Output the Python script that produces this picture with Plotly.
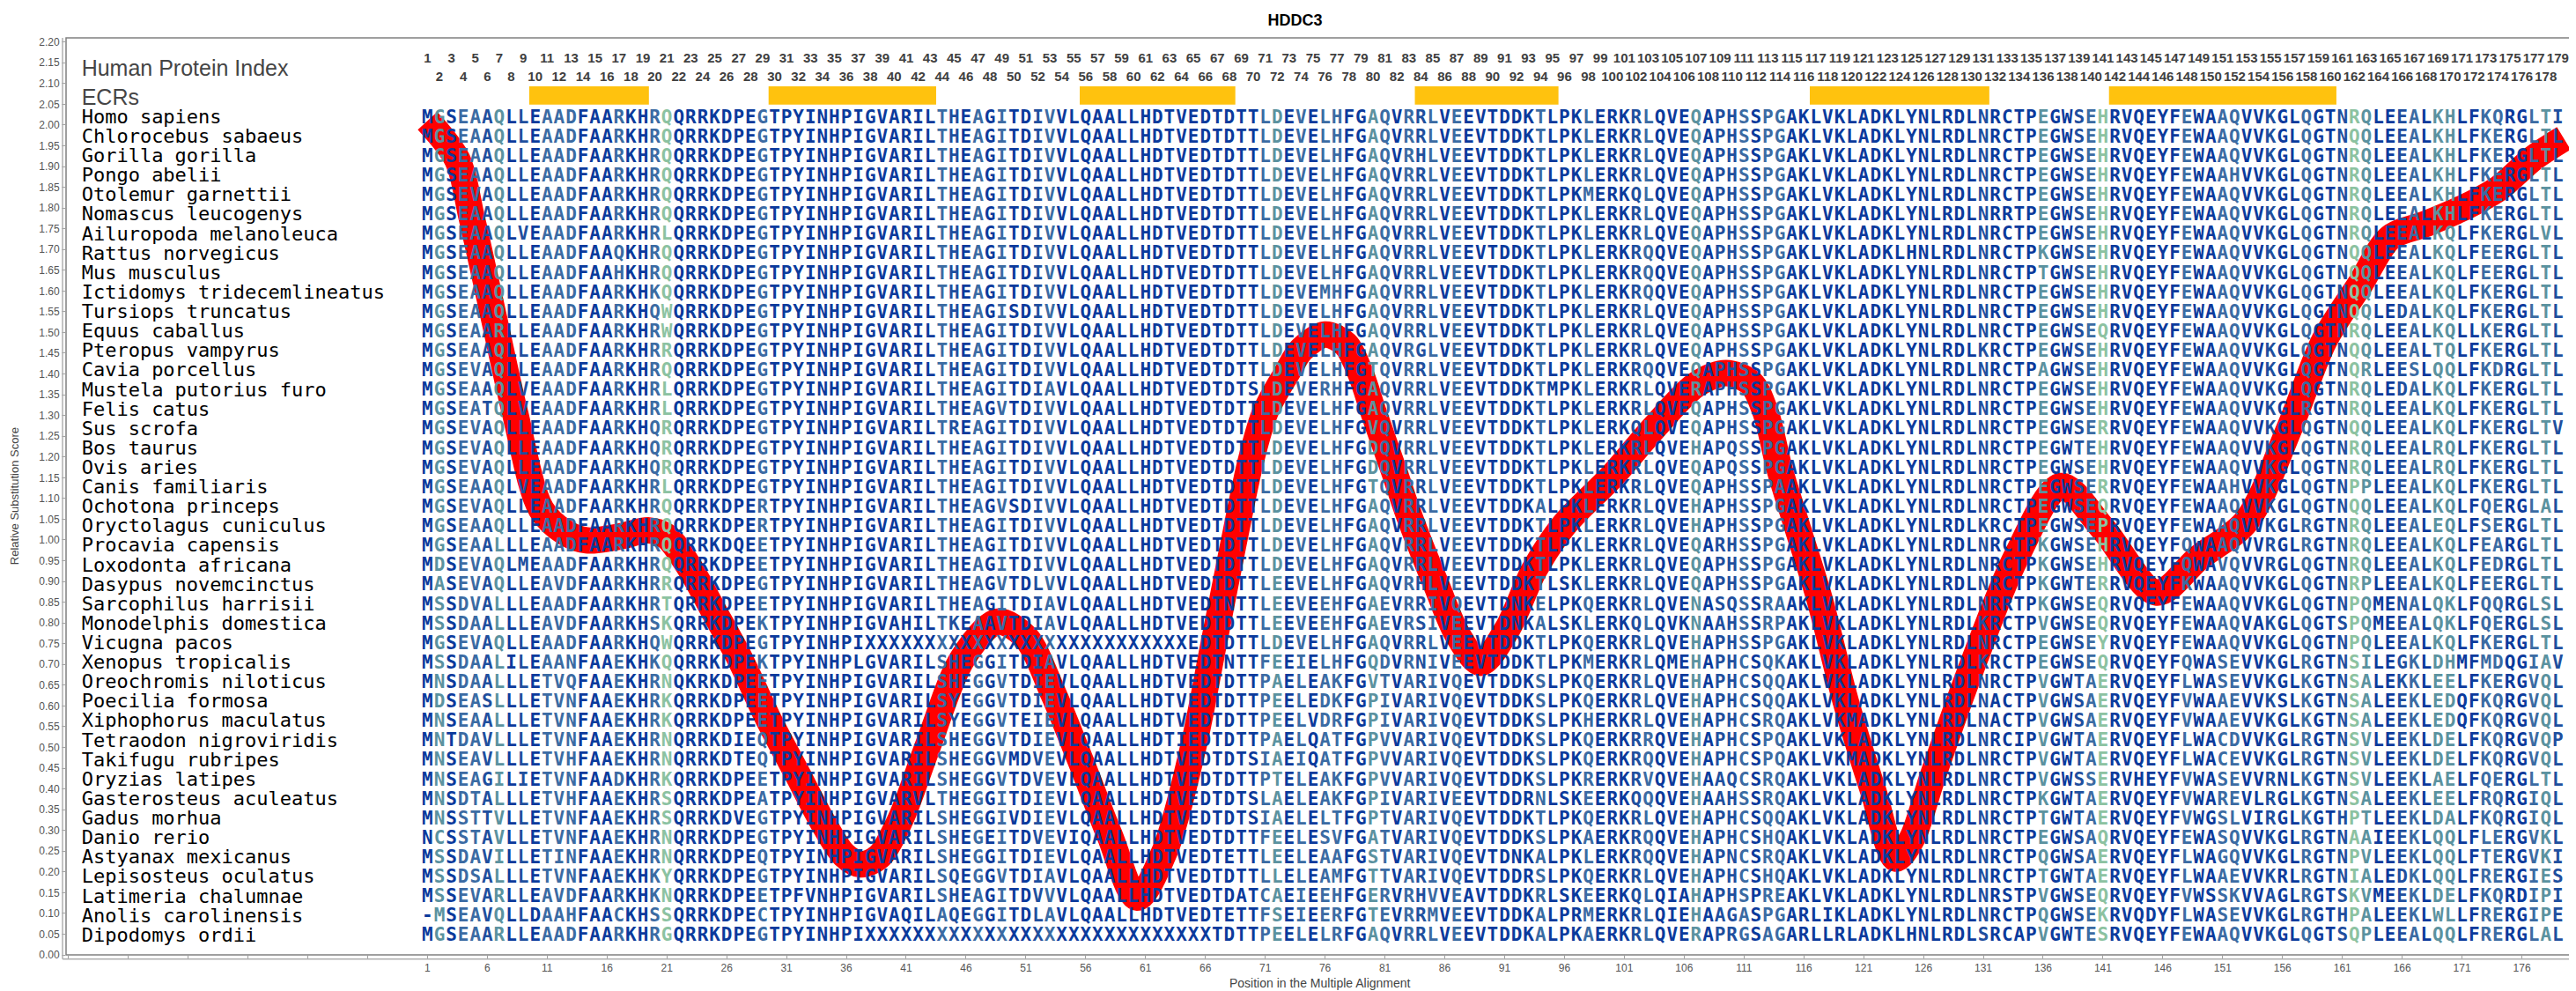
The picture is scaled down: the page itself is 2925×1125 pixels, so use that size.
import plotly.graph_objects as go
from collections import Counter

TITLE = "HDDC3"

SPECIES = [
    "Homo sapiens", "Chlorocebus sabaeus", "Gorilla gorilla", "Pongo abelii",
    "Otolemur garnettii", "Nomascus leucogenys", "Ailuropoda melanoleuca",
    "Rattus norvegicus", "Mus musculus", "Ictidomys tridecemlineatus",
    "Tursiops truncatus", "Equus caballus", "Pteropus vampyrus", "Cavia porcellus",
    "Mustela putorius furo", "Felis catus", "Sus scrofa", "Bos taurus", "Ovis aries",
    "Canis familiaris", "Ochotona princeps", "Oryctolagus cuniculus",
    "Procavia capensis", "Loxodonta africana", "Dasypus novemcinctus",
    "Sarcophilus harrisii", "Monodelphis domestica", "Vicugna pacos",
    "Xenopus tropicalis", "Oreochromis niloticus", "Poecilia formosa",
    "Xiphophorus maculatus", "Tetraodon nigroviridis", "Takifugu rubripes",
    "Oryzias latipes", "Gasterosteus aculeatus", "Gadus morhua", "Danio rerio",
    "Astyanax mexicanus", "Lepisosteus oculatus", "Latimeria chalumnae",
    "Anolis carolinensis", "Dipodomys ordii",
]

SEQ_ROWS = [
    "MGSEAAQLLE AADFAARKHR QQRRKDPEGT PYINHPIGVA RILTHEAGIT DIVVLQAALL HDTVEDTDTT LDEVELHFGA QVRRLVEEV TDDKTLPKLE RKRLQVEQAP HSSPGAKLVK LADKLYNLRD LNRCTPEGWS EHRVQEYFEW AAQVVKGLQG TNRQLEEALK HLFKQRGLTI",
    "MGSEAAQLLE AADFAARKHR QQRRKDPEGT PYINHPIGVA RILTHEAGIT DIVVLQAALL HDTVEDTDTT LDEVELHFGA QVRRLVEEV TDDKTLPKLE RKRLQVEQAP HSSPGAKLVK LADKLYNLRD LNRCTPEGWS EHRVQEYFEW AAQVVKGLQG TNQQLEEALK HLFKERGLTL",
    "MGSEAAQLLE AADFAARKHR QQRRKDPEGT PYINHPIGVA RILTHEAGIT DIVVLQAALL HDTVEDTDTT LDEVELHFGA QVRHLVEEV TDDKTLPKLE RKRLQVEQAP HSSPGAKLVK LADKLYNLRD LNRCTPEGWS EHRVQEYFEW AAQVVKGLQG TNRQLEEALK HLFKERGLTL",
    "MGSEAAQLLE AADFAARKHR QQRRKDPEGT PYINHPIGVA RILTHEAGIT DIVVLQAALL HDTVEDTDTT LDEVELHFGA QVRRLVEEV TDDKTLPKLE RKRLQVEQAP HSSPGAKLVK LADKLYNLRD LNRCTPEGWS EHRVQEYFEW AAHVVKGLQG TNRQLEEALK HLFKERGLTL",
    "MGSEVAQLLE AADFAARKHR QQRRKDPEGT PYINHPIGVA RILTHEAGIT DIVVLQAALL HDTVEDTDTT LDEVELHFGA QVRRLVEEV TDDKTLPKME RKQLQVEQAP HSSPGAKLVK LADKLYNLRD LNRCTPEGWS EHRVQEYFEW AAQVVKGLQG TNRQLEEALK HLFKERGLTL",
    "MGSEAAQLLE AADFAARKHR QQRRKDPEGT PYINHPIGVA RILTHEAGIT DIVVLQAALL HDTVEDTDTT LDEVELHFGA QVRRLVEEV TDDKTLPKLE RKRLQVEQAP HSSPGAKLVK LADKLYNLRD LNRRTPEGWS EHRVQEYFEW AAQVVKGLQG TNRQLEEALK HLFKERGLTL",
    "MGSEAAQLVE AADFAARKHR LQRRKDPEGT PYINHPIGVA RILTHEAGIT DIVVLQAALL HDTVEDTDTT LDEVELHFGA QVRRLVEEV TDDKTLPKLE RKRLQVEQAP HSSPGAKLVK LADKLYNLRD LNRCTPEGWS EHRVQEYFEW AAQVVKGLQG TNRQLEEALK QLFKERGLVL",
    "MGSEAAQLLE AADFAAQKHR QQRRKDPEGT PYINHPIGVA RILTHEAGIT DIVVLQAALL HDTVEDTDTT LDEVELHFGA QVRRLVEEV TDDKTLPKLE RKRQQVEQAP HSSPGAKLVK LADKLHNLRD LNRCTPKGWS EHRVQEYFEW AAQVVKGLQG TNQQLEEALK QLFEERGLTL",
    "MGSEAAQLLE AADFAAHKHR QQRRKDPEGT PYINHPIGVA RILTHEAGIT DIVVLQAALL HDTVEDTDTT LDEVELHFGA QVRRLVEEV TDDKTLPKLE RKRQQVEQAP HSSPGAKLVK LADKLYNLRD LNRCTPTGWS EHRVQEYFEW AAQVVKGLQG TNQQLEEALK QLFEERGLTL",
    "MGSEAAQLLE AADFAARKHK QQRRKDPEGT PYINHPIGVA RILTHEAGIT DIVVLQAALL HDTVEDTDTT LDEVEMHFGA QVRRLVEEV TDDKTLPKLE RKRQQVEQAP HSSPGAKLVK LADKLYNLRD LNRCTPEGWS EHRVQEYFEW AAQVVKGLQG TNQQLEEALK QLFKERGLTL",
    "MGSEAAQLLE AADFAARKHQ WQRRKDPEGT PYINHPIGVA RILTHEAGIS DIVVLQAALL HDTVEDTDTT LDEVELHFGA QVRRLVEEV TDDKTLPKLE RKRLQVEQAP HSSPGAKLVK LADKLYNLRD LNRCTPEGWS EHRVQEYFEW AAQVVKGLQG TNQQLEDALK QLFKERGLTL",
    "MGSEAARLLE AADFAARKHR WQRRKDPEGT PYINHPIGVA RILTHEAGIT DIVVLQAALL HDTVEDTDTT LDEVELHFGA QVRRLVEEV TDDKTLPKLE RKRLQVEQAP HSSPGAKLVK LADKLYNLRD LNRCTPEGWS EQRVQEYFEW AAQVVKGLQG TNRQLEEALK QLLKERGLTL",
    "MGSEAAQLLE AADFAARKHR RQRRKDPEGT PYINHPIGVA RILTHEAGIT DIVVLQAALL HDTVEDTDTT LDEVELHFGA QVRGLVEEV TDDKTLPKLE RKRLQVEQAP HSSPGAKLVK LADKLYNLRD LKRCTPEGWS EHRVQEYFEW AAQVVKGLQG TNQQLEEALT QLFKERGLTL",
    "MGSEVAQLLE AADFAARKHR QQRRKDPEGT PYINHPIGVA RILTHEAGIT DIVVLQAALL HDTVEDTDTT LDEVELHFGT QVRRLVEEV TDDKTLPKLE RKRQQVEQAP HSSPGAKLVK LADKLYNLRD LNRCTPAGWS EHRVQEYFEW AAQVVKGLQG TNQRLEESLQ QLFKDRGLTL",
    "MGSEAAQLVE AADFAARKHR LQRRKDPEGT PYINHPIGVA RILTHEAGIT DIAVLQAALL HDTVEDTDTS LDEVERHFGA QVRRLVEEV TDDKTMPKLE RKRLQVERAP HSSPGAKLVK LADKLYNLRD LNRCTPEGWS EHRVQEYFEW AAQVVKGLQG TNRQLEDALK QLFKERGLTL",
    "MGSEATQLVE AADFAARKHR LQRRKDPEGT PYINHPIGVA RILTHEAGVT DIVVLQAALL HDTVEDTDTT LDEVELHFGA QVRRLVEEV TDDKTLPKLE RKRLQVEQAP HSSPGAKLVK LADKLYNLRD LNRCTPEGWS EHRVQEYFEW AAQVVKGLRG TNRQLEEALK QLFKERGLTL",
    "MGSEVAQLLE AADFAARKHQ RQRRKDPEGT PYINHPIGVA RILTREAGIT DIVVLQAALL HDTVEDTDTT LDEVELHFGV QVRRLVEEV TDDKTLPKLE RKQLQVEQAP HSSPGAKLVK LADKLYNLRD LNRCTPEGWS ERRVQEYFEW AAQVVKGLQG TNQQLEEALK QLFKERGLTV",
    "MGSEVAQLLE AADFAARKHQ RQRRKDPEGT PYINHPIGVA RILTHEAGIT DIVVLQAALL HDTVEDTDTT LDEVELHFGD QVRRLVEEV TDDKTLPKLE RKRLQVEHAP QSSPGAKLVK LADKLYNLRD LNRCTPEGWT EHRVQEYFEW AAQVVKGLQG TNRQLEEALR QLFKERGLTL",
    "MGSEVAQLLE AADFAARKHQ RQRRKDPEGT PYINHPIGVA RILTHEAGIT DIVVLQAALL HDTVEDTDTT LDEVELHFGD QVRRLVEEV TDDKTLPKLE RKRLQVEQAP QSSPGAKLVK LADKLYNLRD LNRCTPEGWS EHRVQEYFEW AAQVVKGLQG TNRQLEEALR QLFKERGLTL",
    "MGSEAAQLVE AADFAARKHR LQRRKDPEGT PYINHPIGVA RILTHEAGIT DIVVLQAALL HDTVEDTDTT LDEVELHFGT QVRRLVEEV TDDKTLPKLE RKRLQVEQAP HSSPAAKLVK LADKLYNLRD LNRCTPEGWS ERRVQEYFEW AAHVVKGLQG TNPPLEEALK QLFKERGLTL",
    "MGSEVAQLLE AADFAARKHR QQRRKDPERT PYINHPIGVA RILTHEAGVS DIVVLQAALL HDTVEDTDTT LDEVELHFGA QVRRLVEEV TDDKALPKLE RKRLQVEHAP HSSPGAKLVK LADKLYNLRD LNRCTPEGWS EQRVQEYFEW AAQVVKGLQG TNQQLEEALK QLFQERGLAL",
    "MGSEAAQLLE AADFAARKHR QQRRKDPERT PYINHPIGVA RILTHEAGIT DIVVLQAALL HDTVEDTDTT LDEVELHFGA QVRRLVEEV TDDKTLPKLE RKRLQVEHAP HSSPGAKLVK LADKLYNLRD LKRCTPEGWS EPRVQEYFEW AAQVVKGLRG TNRQLEEALE QLFSERGLTL",
    "MGSEAALLLE AADFAARKHR QQRRKDQEET PYINHPIGVA RILTHEAGIT DIVVLQAALL HDTVEDTDTT LDEVELHFGA QVRRLVEEV TDDKTLPKLE RKRLQVEQAR HSSPGAKLVK LADKLYNLRD LNRCTPKGWS EHRVQEYFQW AAQVVRGLRG TNRQLEEALK QLFEARGLTL",
    "MDSEVAQLME AADFAARKHR QQRRKDPEET PYINHPIGVA RILTHEAGIT DIVVLQAALL HDTVEDTDTT LDEVELHFGA QVRRLVEEV TDDKTLPKLE RKRLQVEQAP HSSPGAKLVK LADKLYNLRD LNRCTPKGWS EHRVQEYFQW AVQVVRGLQG TNRQLEEALK QLFEDRGLTL",
    "MASEVAQLLE AVDFAARKHR RQRRKDPEGT PYINHPIGVA RILTHEAGVT DLVVLQAALL HDTVEDTDTT LEEVELHFGA QVRHLVEEV TDDKTLSKLE RKRLQVEQAP HSSPGAKLVK LADKLYNLRD LNRCTPKGWT ERRVQEYFKW AAQVVKGLQG TNRPLEEALK QLFEERGLTL",
    "MSSDVALLLE AADFAARKHR TQRRKDPEET PYINHPIGVA RILTHEAGIT DIAVLQAALL HDTVEDTNTT LEEVEEHFGA EVRRIVQEV TDNKELPKQE RKRLQVENAS QSSRAAKLVK LADKLYNLRD LNRRTPKGWS EQRVQEYFEW AAQVVKGLQG TNPQMENALQ KLFQQRGLSL",
    "MSSDAALLLE AVDFAARKHS KQRRKDPEKT PYINHPIGVA HILTKEAAVT DIAVLQAALL HDTVEDTDTT LEEVEEHFGA EVRSIVEEV TDNKALSKLE RKQLQVKNAA HSSRPAKLVK LADKLYNLRD LKRCTPVGWS EQRVQEYFEW AAQVAKGLQG TSPQMEEALQ KLFQERGLSL",
    "MGSEVAQLLE AADFAARKHQ WQRRKDPEGT PYINHPIXXX XXXXXXXXXX XXXXXXXXXX XXXXEDTDTT LDEVELHFGA QVRRLVEEV TDDKTLPKQE RKRLQVEHAP HSSPGAKLVK LADKLYNLRD LNRCTPEGWS EYRVQEYFEW AAQVVKGLQG TNPQLEEALK QLFKERGLTL",
    "MSSDAALILE AANFAAEKHK QQRRKDPEKT PYINHPLGVA RILSHEGGIT DIAVLQAALL HDTVEDTNTT FEEIELHFGQ DVRNIVEEV TDDKTLPKME RKRLQMEHAP HCSQKAKLVK LADKLYNLRD LKRCTPEGWS EQRVQEYFQW ASEVVKGLRG TNSILEGKLD HMFMDQGIAV",
    "MNSDAALLLE TVQFAAEKHR NQKRKDPEET PYINHPIGVA RILSHEGGVT DIEVLQAALL HDTVEDTDTT PAELEAKFGV TVARIVQEV TDDKSLPKQE RKRLQVEHAP HCSQQAKLVK LADKLYNLRD LNRCTPVGWT AERVQEYFLW ASEVVKGLKG TNSALEKKLE ELFKERGVQL",
    "MDSEASLLLE TVNFAAEKHR KQRRKDPEET PYINHPIGVA RILSYEGGVT DIEVLQAALL HDTVEDTDTT PEELEDKFGP IVARIVQEV TDDKSLPKQE RKRLQVEHAP HCSQQAKLVK LADKLYNLRD LNACTPVGWS AERVQEYFVW AAEVVKSLKG TNSALEEKLE DQFKQRGVQL",
    "MNSEAALLLE TVNFAAEKHR KQRRKDPEET PYINHPIGVA RILSYEGGVT EIEVLQAALL HDTVEDTDTT PEELVDRFGP IVARIVQEV TDDKSLPKHE RKRLQVEHAP HCSRQAKLVK MADKLYNLRD LNACTPVGWS AERVQEYFVW AAEVVKGLKG TNSALEEKLE DQFKQRGVQL",
    "MNTDAVLLLE TVNFAAEKHR NQRRKDIEQT PYINHPIGVA RILSHEGGVT DIEVLQAALL HDTIEDTDTT PAELQATFGP VVARIVQEV TDDKSLPKQE RKRRQVEHAP HCSPQAKLVK LADKLYNLRD LNRCIPVGWT AERVQEYFLW ACDVVKGLRG TNSVLEEKLD ELFKQRGVQP",
    "MNSEAVLLLE TVHFAAEKHR NQRRKDTEQT PYINHPIGVA RILSHEGGVM DVEVLQAALL HDTVEDTDTS IAEIQATFGP VVARIVQEV TDDKSLPKQE RKRQQVEHAP HCSPQAKLVK MADKLYNLRD LNRCTPVGWT AERVQEYFLW ACEVVKGLRG TNSVLEEKLD ELFKQRGVQL",
    "MNSEAGILIE TVNFAADKHR KQRRKDPEET PYINHPIGVA RILSHEGGVT DVEVLQAALL HDTVEDTDTT PTELEAKFGP VVARIVQEV TDDKSLPKRE RKRVQVEHAA QCSRQAKLVK LADKLYNLRD LNRCTPVGWS SERVHEYFVW ASEVVRNLKG TNSVLEEKLA ELFQERGLTL",
    "MNSDTALLLE TVHFAAEKHR SQRRKDPEAT PYINHPIGVA RVLTHEGGIT DIEVLQAALL HDTVEDTDTS LAELEAKFGP IVARIVEEV TDDRNLSKEE RKQQQVEHAA HSSRQAKLVK LADKLYNLRD LNRCTPKGWT AERVQEYFVW AREVLRGLKG TNSALEEKLE ELFRQRGIQL",
    "MNSSTTVLLE TVNFAAEKHR SQRRKDVEGT PYINHPIGVA RILSHEGGIV DIEVLQAALL HDTVEDTDTS IAELELTFGP TVARIVQEV TDDKTLPKQE RKRLQVEHAP HCSQQAKLVK LADKLYNLRD LNRCTPTGWT AERVQEYFVW GSLVIRGLKG THPTLEEKLD ALFKQRGIQL",
    "NCSSTAVLLE TVNFAAEKHR NQRRKDPEGT PYINHPIGVA RILSHEGEIT DVEVIQAALL HDTVEDTDTT FEELESVFGA TVARIVQEV TDDKSLPKAE RKRQQVEHAP HCSHQAKLVK LADKLYNLRD LNRCTPEGWS AQRVQEYFEW ASQVVKGLRG TNAAIEEKLQ QLFLERGVKL",
    "MSSDAVILLE TINFAAEKHR NQRRKDPEQT PYINHPIGVA RILSHEGGIT DIEVLQAALL HDTVEDTETT LEELEAAFGS TVARIVQEV TDNKALPKLE RKRQQVEHAP NCSRQAKLVK LADKLYNLRD LNRCTPQGWS AERVQEYFLW AGQVVKGLRG TNPVLEEKLQ QLFTERGVKI",
    "MSSDSALLLE TVNFAAEKHK YQRRKDPEGT PYINHPIGVA RILSQEGGVT DIAVLQAALL HDTVEDTDTT LLELEAMFGT TVARIVQEV TDDRSLPKQE RKRLQVEHAP HCSHQAKLVK LADKLYNLRD LNRCTPTGWT AERVQEYFLW AAEVVKRLRG TNIALEDKLQ QLFRERGIES",
    "MSSEVARLLE AVDFAARKHK NQRRKDPEET PFVNHPIGVA RILSHEAGIT DVVVLQAALL HDTVEDTDAT CAEIEEHFGE RVRHVVEAV TDDKRLSKEE RKQLQIAHAP HSPREAKLVK LADKLYNLRD LNRSTPVGWS EQRVQEYFVW SSKVVAGLRG TSKVMEEKLD ELFKQRDIPI",
    "-MSEAVQLLD AAHFAACKHS SQRRKDPECT PYINHPIGVA QILAQEGGIT DLAVLQAALL HDTVEDTETT FSEIEERFGT EVRRMVEEV TDDKALPRME RKRLQIEHAA GASPGARLIK LADKLYNLRD LNRCTPQGWS EKRVQDYFLW ASEVVKGLRG THPALEEKLW LLFRERGIPE",
    "MGSEAARLLE AADFAARKHR GQRRKDPEGT PYINHPIXXX XXXXXXXXXX XXXXXXXXXX XXXXXXTDTT PEELELRFGA QVRRLVEEV TDDKALPKAE RKRLQVERAP RGSAGARLLR LADKLHNLRD LSRCAPVGWT ESRVQEYFEW AAQVVKGLQG TSQPLEEALQ QLFRERGLAL",
]

# Evolutionarily conserved regions (alignment positions)
ECR_START = [10, 30, 56, 84, 117, 142]
ECR_END = [19, 43, 68, 95, 131, 160]

# Relative substitution score curve
LINE_POS = [1, 3.5, 4.7, 6.5, 8.3, 10.5, 12.5, 14.3, 17, 19.5, 21, 23, 24.8, 27.1,
            29.4, 31.8, 34.1, 35.8, 37.2, 38.7, 40.5, 42.8, 45.7, 48.6, 51, 53.3,
            55.6, 58, 60.3, 62.6, 65, 66.7, 68.4, 69.8, 71, 72.8, 74, 76, 77.7,
            78.9, 80.1, 81.8, 83, 85.3, 87.1, 89, 91.2, 93.5, 96, 100, 103.5, 107,
            109.5, 111.6, 112.8, 114, 115.5, 117.3, 119.5, 121.8, 123.7, 125,
            126.8, 130.3, 133.8, 137.5, 141, 145.5, 149, 153, 156.6, 159.5, 162.5,
            165, 168, 171, 174, 177, 179.5]
LINE_SCORE = [2.010, 1.916, 1.776, 1.542, 1.308, 1.074, 1.018, 0.999, 1.008, 1.023,
              1.008, 0.929, 0.835, 0.714, 0.573, 0.442, 0.316, 0.241, 0.218, 0.236,
              0.325, 0.503, 0.714, 0.803, 0.765, 0.629, 0.466, 0.288, 0.138, 0.250,
              0.503, 0.751, 0.999, 1.191, 1.308, 1.402, 1.458, 1.495, 1.472, 1.406,
              1.303, 1.163, 1.060, 0.891, 0.770, 0.704, 0.784, 0.929, 1.037, 1.154,
              1.271, 1.374, 1.402, 1.378, 1.308, 1.168, 1.027, 0.859, 0.611, 0.395,
              0.232, 0.278, 0.433, 0.714, 0.962, 1.130, 1.027, 0.873, 0.957, 1.046,
              1.271, 1.481, 1.617, 1.729, 1.762, 1.799, 1.846, 1.921, 1.968]

X_TICKS = list(range(-29, 180, 5))
X_TICK_LABELS = ["" if v < 1 else str(v) for v in X_TICKS]
Y_TICKS = [round(i * 0.05, 2) for i in range(45)]

N_POS = 179

# ---------------- layout constants ----------------
ROW_Y0 = 2.016
ROW_STEP = 0.04695
LABEL_X = -27.9
ODD_Y = 2.158
EVEN_Y = 2.113
ECR_Y0, ECR_Y1 = 2.049, 2.093

sequences = []
for s in SEQ_ROWS:
    s = s.replace(" ", "")
    s = (s + " " * N_POS)[:N_POS]
    sequences.append(s)

# column colour by conservation
LEVEL_COLORS = ["#0b3a9c", "#1f4f9e", "#3b6ba3", "#5b929f", "#8cc2a1"]
col_colors = []
for j in range(N_POS):
    col = [s[j] for s in sequences if s[j] not in "X- "]
    if col:
        frac = Counter(col).most_common(1)[0][1] / len(col)
    else:
        frac = 1.0
    if frac >= 0.9:
        c = LEVEL_COLORS[0]
    elif frac >= 0.78:
        c = LEVEL_COLORS[1]
    elif frac >= 0.6:
        c = LEVEL_COLORS[2]
    elif frac >= 0.45:
        c = LEVEL_COLORS[3]
    else:
        c = LEVEL_COLORS[4]
    col_colors.append(c)

xs, ys, ts, cs = [], [], [], []
for i, s in enumerate(sequences):
    y = ROW_Y0 - i * ROW_STEP
    for j, ch in enumerate(s):
        if ch == " ":
            continue
        xs.append(j + 1)
        ys.append(y)
        ts.append(ch)
        cs.append(col_colors[j])

fig = go.Figure()

# substitution score line (below letters)
fig.add_trace(go.Scatter(
    x=LINE_POS, y=LINE_SCORE, mode="lines",
    line=dict(color="#FF0000", width=30, shape="spline", smoothing=0.9),
    hoverinfo="skip", showlegend=False))

# alignment letters
fig.add_trace(go.Scatter(
    x=xs, y=ys, text=ts, mode="text", textposition="middle center",
    textfont=dict(family="DejaVu Sans Mono", size=21, color=cs, weight="bold"),
    hoverinfo="skip", showlegend=False, cliponaxis=False))

# species names
fig.add_trace(go.Scatter(
    x=[LABEL_X] * len(SPECIES),
    y=[ROW_Y0 - i * ROW_STEP for i in range(len(SPECIES))],
    text=SPECIES, mode="text", textposition="middle right",
    textfont=dict(family="DejaVu Sans Mono", size=22, color="#000000"),
    hoverinfo="skip", showlegend=False, cliponaxis=False))

# header labels
fig.add_trace(go.Scatter(
    x=[LABEL_X, LABEL_X], y=[2.133, 2.061], text=["Human Protein Index", "ECRs"],
    mode="text", textposition="middle right",
    textfont=dict(family="Liberation Sans", size=25, color="#454545"),
    hoverinfo="skip", showlegend=False, cliponaxis=False))

# human protein index numbers
idx = list(range(1, N_POS + 1))
fig.add_trace(go.Scatter(
    x=idx, y=[ODD_Y if k % 2 == 1 else EVEN_Y for k in idx],
    text=[str(k) for k in idx], mode="text", textposition="middle center",
    textfont=dict(family="Liberation Sans Narrow, Liberation Sans", size=15,
                  color="#404040", weight="bold"),
    hoverinfo="skip", showlegend=False, cliponaxis=False))

shapes = []
for a, b in zip(ECR_START, ECR_END):
    shapes.append(dict(type="rect", xref="x", yref="y", x0=a - 0.5, x1=b + 0.5,
                       y0=ECR_Y0, y1=ECR_Y1, fillcolor="#FFC20E",
                       line=dict(width=0)))
# frame
shapes.append(dict(type="rect", xref="paper", yref="paper", x0=0, x1=1, y0=0, y1=1,
                   line=dict(color="#808080", width=1.5), fillcolor="rgba(0,0,0,0)"))
# offset axis lines
shapes.append(dict(type="line", xref="paper", yref="paper", x0=-0.0014, x1=1,
                   y0=-0.0045, y1=-0.0045, line=dict(color="#b0b0b0", width=1.5)))
shapes.append(dict(type="line", xref="paper", yref="paper", x0=-0.0014, x1=-0.0014,
                   y0=-0.0045, y1=1, line=dict(color="#b0b0b0", width=1.5)))

fig.update_layout(
    width=2925, height=1125, autosize=False,
    margin=dict(l=67, r=11, t=35, b=49),
    paper_bgcolor="white", plot_bgcolor="white",
    title=dict(text="<b>" + TITLE + "</b>", x=0.5, xref="container", xanchor="center",
               y=0.987, yref="container", yanchor="middle",
               font=dict(family="Liberation Sans", size=18, color="#000000")),
    shapes=shapes,
    annotations=[
        dict(text="Position in the Multiple Alignment", xref="paper", yref="paper",
             x=0.5, y=-0.031, xanchor="center", yanchor="middle", showarrow=False,
             font=dict(family="Liberation Sans", size=14, color="#444444")),
        dict(text="Relative Substitution Score", xref="paper", yref="paper",
             x=-0.0205, y=0.5, xanchor="center", yanchor="middle", showarrow=False,
             textangle=-90, font=dict(family="Liberation Sans", size=13, color="#444444")),
    ],
    xaxis=dict(range=[-29.2, 180.3], showgrid=False, zeroline=False, showline=False,
               tickmode="array", tickvals=X_TICKS, ticktext=X_TICK_LABELS,
               ticks="outside", ticklen=4, tickcolor="#a0a0a0",
               tickfont=dict(family="Liberation Sans", size=12, color="#555555")),
    yaxis=dict(range=[0, 2.21], showgrid=False, zeroline=False, showline=False,
               tickmode="array", tickvals=Y_TICKS,
               ticktext=["%.2f" % v for v in Y_TICKS],
               ticks="outside", ticklen=4, tickcolor="#a0a0a0",
               tickfont=dict(family="Liberation Sans", size=12, color="#555555")),
)

fig.write_html("out.html")
